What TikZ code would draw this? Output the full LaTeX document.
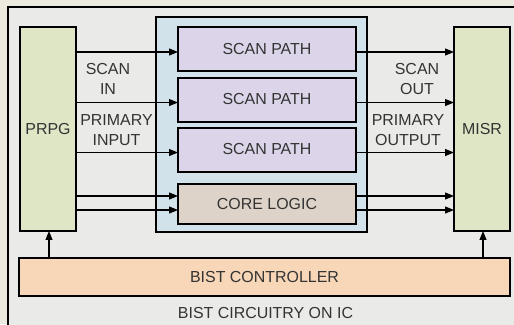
\documentclass[tikz,border=0pt]{standalone}
\usepackage{fontspec}
\setmainfont{Liberation Sans}
\usetikzlibrary{arrows.meta,positioning,calc}

\definecolor{pagebg}{HTML}{ECE9DF}
\definecolor{panelbg}{HTML}{EAEAE8}
\definecolor{regfill}{HTML}{DFE6C6}
\definecolor{chipfill}{HTML}{D2E2EA}
\definecolor{scanfill}{HTML}{DCD5EA}
\definecolor{corefill}{HTML}{DDD3C8}
\definecolor{ctrlfill}{HTML}{F8D6B8}
\definecolor{inkgray}{HTML}{333333}

\tikzset{
  blockbox/.style={draw=black, line width=2pt, inner sep=0pt, outer sep=0pt,
    font=\fontsize{16}{18}\selectfont, text=inkgray},
  sigarrow/.style={draw=black, line width=1.1pt, -{Stealth[length=9pt,width=7pt,inset=0pt]}},
  siglabel/.style={font=\fontsize{16}{18}\selectfont, text=inkgray, align=center, inner sep=0pt}
}

\begin{document}
\begin{tikzpicture}[x=1bp,y=-1bp]
  \useasboundingbox (0,0) rectangle (514,324);
  \fill[pagebg] (0,0) rectangle (514,324);
  \begin{scope}
    \clip (0,0) rectangle (514,324);
    \draw[line width=2pt, fill=panelbg] (8,7) rectangle (530,340);
  \end{scope}

  % chip boundary with scan chains and core logic
  \node[blockbox, fill=chipfill, minimum width=211bp, minimum height=215bp, anchor=north west] (chip) at (156,17) {};
  \node[blockbox, fill=scanfill, minimum width=178bp, minimum height=44bp, anchor=north west] (sp1) at (178,27) {SCAN PATH};
  \node[blockbox, fill=scanfill, minimum width=178bp, minimum height=44bp, anchor=north west] (sp2) at (178,77.5) {SCAN PATH};
  \node[blockbox, fill=scanfill, minimum width=178bp, minimum height=44bp, anchor=north west] (sp3) at (178,127.5) {SCAN PATH};
  \node[blockbox, fill=corefill, minimum width=178bp, minimum height=40bp, anchor=north west] (core) at (178,184) {CORE LOGIC};

  % pattern generator and signature register
  \node[blockbox, fill=regfill, minimum width=56bp, minimum height=204bp, anchor=north west] (prpg) at (20,27) {PRPG};
  \node[blockbox, fill=regfill, minimum width=56bp, minimum height=204bp, anchor=north west] (misr) at (454,27) {MISR};

  % controller
  \node[blockbox, fill=ctrlfill, minimum width=491bp, minimum height=38bp, anchor=north west] (ctrl) at (19,258) {BIST CONTROLLER};
  \node[siglabel] (title) at (265.5,313) {BIST CIRCUITRY ON IC};

  % signal taps
  \coordinate (in1) at ($(sp1.west)+(0,3)$);
  \coordinate (in2) at ($(sp2.west)+(0,3)$);
  \coordinate (in3) at ($(sp3.west)+(0,3)$);
  \coordinate (in4) at ($(core.west)+(0,-8)$);
  \coordinate (in5) at ($(core.west)+(0,6)$);
  \coordinate (out1) at ($(sp1.east)+(0,3)$);
  \coordinate (out2) at ($(sp2.east)+(0,3)$);
  \coordinate (out3) at ($(sp3.east)+(0,3)$);
  \coordinate (out4) at ($(core.east)+(0,-8)$);
  \coordinate (out5) at ($(core.east)+(0,6)$);

  \foreach \k in {1,...,5}{
    \draw[sigarrow] (prpg.east |- in\k) -- (in\k);
    \draw[sigarrow] (out\k) -- (misr.west |- out\k);
  }

  \coordinate (upL) at (49,0);
  \coordinate (upR) at (483,0);
  \draw[sigarrow] (ctrl.north -| upL) -- (prpg.south -| upL);
  \draw[sigarrow] (ctrl.north -| upR) -- (misr.south -| upR);

  % signal labels
  \node[siglabel] (scanin) at (108,79) {SCAN\\[1.5bp]IN};
  \node[siglabel] (pin) at (116.5,130) {PRIMARY\\[1.5bp]INPUT};
  \node[siglabel] (scanout) at (417,79) {SCAN\\[1.5bp]OUT};
  \node[siglabel] (pout) at (408,130) {PRIMARY\\[1.5bp]OUTPUT};
\end{tikzpicture}
\end{document}
